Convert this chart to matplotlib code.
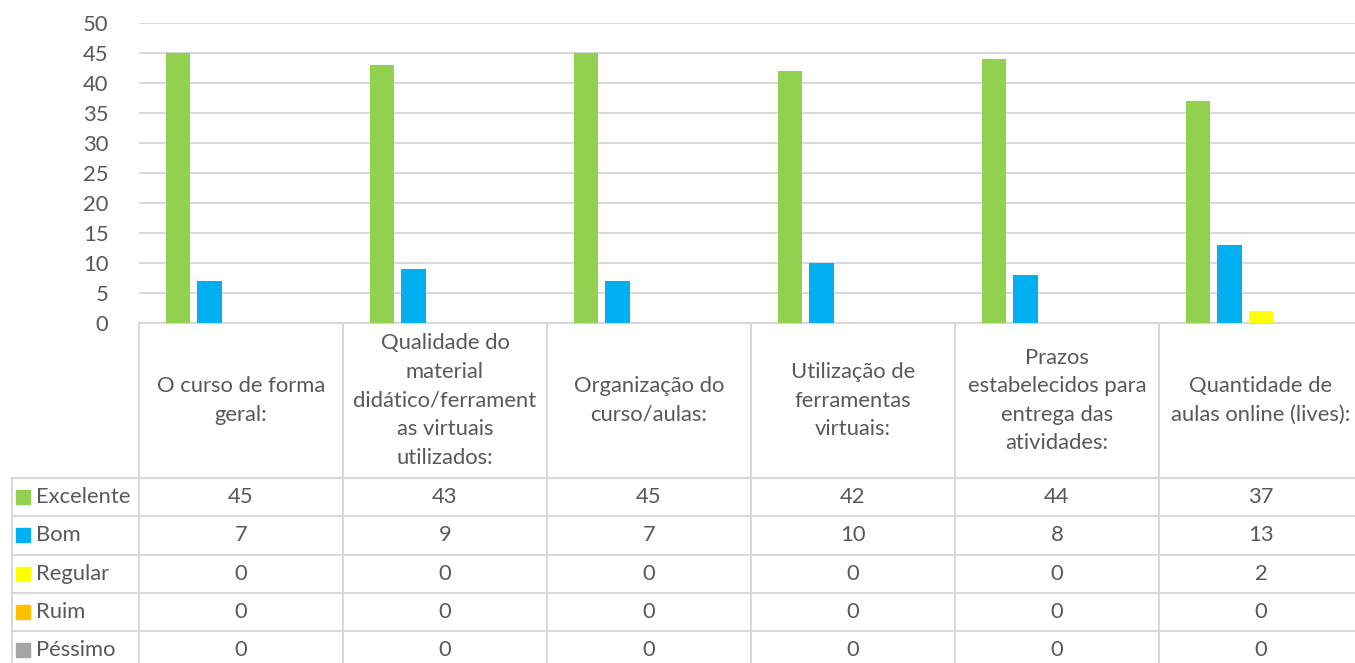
import numpy as np
import matplotlib
matplotlib.use("Agg")
import matplotlib.pyplot as plt

# data
categories = [
    "O curso de forma\ngeral:",
    "Qualidade do\nmaterial\ndidático/ferrament\nas virtuais\nutilizados:",
    "Organização do\ncurso/aulas:",
    "Utilização de\nferramentas\nvirtuais:",
    "Prazos\nestabelecidos para\nentrega das\natividades:",
    "Quantidade de\naulas online (lives):",
]
series_names = ["Excelente", "Bom", "Regular", "Ruim", "Péssimo"]
excelente = [45, 43, 45, 42, 44, 37]
bom = [7, 9, 7, 10, 8, 13]
regular = [0, 0, 0, 0, 0, 2]
ruim = [0, 0, 0, 0, 0, 0]
pessimo = [0, 0, 0, 0, 0, 0]
series_values = [excelente, bom, regular, ruim, pessimo]
colors = ["#92d050", "#00b0f0", "#ffff00", "#ffc000", "#a5a5a5"]

text_color = "#595959"
grid_color = "#d9d9d9"
font = "Lato"
fs = 15.8

W, H = 1355, 663
fig = plt.figure(figsize=(W / 100, H / 100), dpi=100)

# geometry in pixels
plot_left, plot_top, plot_bottom = 139, 23, 323
col_w = 204
n = len(categories)
legend_left = 12
header_h = 155
row_h = 38.3

# ---- bar chart ----
ax = fig.add_axes([plot_left / W, 1 - plot_bottom / H, n * col_w / W, (plot_bottom - plot_top) / H])
x = np.arange(n)
bar_w = 0.12
step = 0.154
for i, (name, vals, c) in enumerate(zip(series_names, series_values, colors)):
    ax.bar(x + (i - 2) * step, vals, width=bar_w, color=c, zorder=3)
ax.set_xlim(-0.5, n - 0.5)
ax.set_ylim(0, 50)
ax.set_yticks(range(0, 51, 5))
ax.set_xticks([])
ax.yaxis.grid(True, color=grid_color, linewidth=1.5, zorder=0)
for s in ["top", "right", "left"]:
    ax.spines[s].set_visible(False)
ax.spines["bottom"].set_color(grid_color)
ax.spines["bottom"].set_linewidth(1.5)
ax.tick_params(axis="y", length=0, pad=22, labelsize=fs, labelcolor=text_color)
for lbl in ax.get_yticklabels():
    lbl.set_fontfamily(font)

# ---- data table ----
tx0 = -0.5 - plot_left / col_w
tx1 = -0.5 + (W - plot_left) / col_w
tab = fig.add_axes([0, 0, 1, 1 - plot_bottom / H])
tab.set_xlim(tx0, tx1)
tab.set_ylim((H - plot_bottom) / row_h, 0)
tab.axis("off")
hh = header_h / row_h
lx = -0.5 - (plot_left - legend_left) / col_w
nrows = len(series_names)
bottom = hh + nrows
lw = 1.5
# vertical lines
for k in range(n + 1):
    tab.plot([k - 0.5, k - 0.5], [0, bottom + 1], color=grid_color, lw=lw)
tab.plot([lx, lx], [hh, bottom + 1], color=grid_color, lw=lw)
# horizontal lines
for r in range(nrows + 1):
    tab.plot([lx, n - 0.5], [hh + r, hh + r], color=grid_color, lw=lw)

# header text
for k, cat in enumerate(categories):
    tab.text(k, hh / 2, cat, ha="center", va="center", fontsize=fs, color=text_color,
             family=font, linespacing=1.54)

# rows
for r, (name, vals, c) in enumerate(zip(series_names, series_values, colors)):
    yc = hh + r + 0.5
    tab.scatter([lx + 0.055], [yc], marker="s", s=100, color=c, zorder=4)
    tab.text(lx + 0.12, yc, name, ha="left", va="center", fontsize=fs, color=text_color, family=font)
    for k, v in enumerate(vals):
        tab.text(k, yc, str(v), ha="center", va="center", fontsize=fs, color=text_color, family=font)

fig.savefig("out.png", dpi=100)
